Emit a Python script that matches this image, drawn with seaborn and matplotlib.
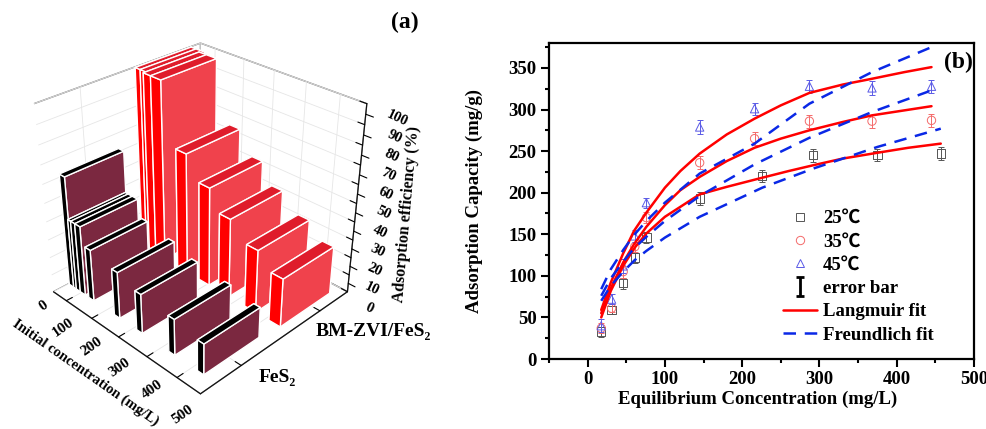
import matplotlib
matplotlib.use("Agg")
import matplotlib.pyplot as plt
from matplotlib.lines import Line2D
from matplotlib.ticker import MultipleLocator
import numpy as np
import pandas as pd
import seaborn as sns

# panel (a)
dark_conc = [50, 68, 79, 95, 129, 228, 310, 422, 516]
dark_eff = [62, 39, 39, 39, 29, 26, 22, 20, 17]
red_conc = [50, 68, 79, 105, 190, 270, 340, 430, 510]
red_eff = [100, 100, 99, 99, 67, 55, 44, 35, 27]
materials = ["FeS\u2082", "BM-ZVI/FeS\u2082"]
x_tick_labels = ["0", "100", "200", "300", "400", "500"]
x_label_px = [(43, 306), (63, 328), (92, 347), (120, 368), (152, 390), (183, 415)]

# panel (b)
x_low = [17.6, 31, 46, 61, 76, 145, 226, 292, 375, 457]
x_high = [17.6, 31, 46, 61, 76, 145, 216, 287, 368, 445]
q_25 = [33, 59, 91, 122, 146, 193, 220, 245, 245, 247]
q_35 = [37, 61, 105, 135, 170, 236, 265, 286, 286, 287]
q_45 = [40, 72, 112, 148, 188, 279, 301, 328, 326, 328]
err_25 = [6, 5, 7, 6, 7, 8, 7, 8, 7, 8]
err_35 = [6, 5, 7, 6, 7, 8, 8, 8, 8, 8]
err_45 = [8, 6, 8, 7, 6, 8, 7, 8, 8, 8]

lang_x_25 = [17.6, 30, 46, 61, 76, 100, 120, 145, 180, 226, 260, 292, 330, 375, 415, 457]
lang_25 = [50, 82, 112, 134, 151, 171, 183, 198, 207, 218, 226, 233, 241, 248, 254, 259]
lang_x = [17.6, 30, 46, 60, 76, 100, 120, 145, 180, 216, 250, 287, 330, 368, 410, 445]
lang_35 = [55, 85, 116, 138, 159, 185, 203, 219, 238, 254, 265, 275, 285, 293, 299, 304]
lang_45 = [59, 92, 127, 154, 176, 206, 226, 247, 270, 289, 305, 320, 330, 337, 345, 351]

freu_x_25 = [17.6, 30, 46, 61, 76, 100, 145, 226, 292, 375, 457]
freu_x = [17.6, 30, 46, 60, 76, 100, 145, 216, 287, 368, 445]
freu_25 = [70, 88, 105, 119, 130, 146, 171, 206, 229, 255, 277]
freu_35 = [76, 97, 117, 133, 147, 166, 196, 234, 266, 297, 323]
freu_45 = [84, 108, 131, 149, 166, 188, 223, 259, 307, 345, 375]

sns.set_style("ticks")
plt.rcParams["font.family"] = ["Liberation Serif", "Noto Sans CJK SC", "DejaVu Sans"]
plt.rcParams["font.weight"] = "bold"
plt.rcParams["axes.labelweight"] = "bold"
plt.rcParams["text.color"] = "black"
plt.rcParams["axes.labelcolor"] = "black"
plt.rcParams["xtick.color"] = "black"
plt.rcParams["ytick.color"] = "black"
plt.rcParams["axes.edgecolor"] = "black"

W, H = 987, 429
fig = plt.figure(figsize=(W / 100, H / 100), dpi=100)
fig.patch.set_facecolor("white")


def ftext(x, y, s, **kw):
    # text placed by pixel position in the figure
    kw.setdefault("ha", "center")
    kw.setdefault("va", "center")
    fig.text(x / W, 1 - y / H, s, **kw)


# ---- (a) 3D bars ----
ax3 = fig.add_axes([-0.1135, -0.0495, 0.62, 1.12], projection="3d", computed_zorder=False)
ax3.set_proj_type("persp", focal_length=0.35)
ax3.view_init(elev=31, azim=-45)
ax3.set_box_aspect((1, 1, 0.99), zoom=0.77)
ax3.set_xlim(47, 574)
ax3.set_ylim(0.54, 2.39)
ax3.set_zlim(0, 100)
ax3.patch.set_alpha(0)

red_faces = ["#f0424c", "#df1c2b", "#ff0000", "#f0424c", "#ff0000", "#f0424c"]
dark_faces = ["#7b2840", "#000000", "#000000", "#7b2840", "#000000", "#7b2840"]
for i, (c, e) in enumerate(zip(red_conc, red_eff)):
    ax3.bar3d(c, 1.59, 0, 36, 0.67, e, color=red_faces, shade=False, zorder=10 + i)
for i, (c, e) in enumerate(zip(dark_conc, dark_eff)):
    ax3.bar3d(c, 0.71, 0, 20, 0.65, e, color=dark_faces, shade=False, zorder=30 + i)

ax3.set_xticks([100, 200, 300, 400, 500])
ax3.set_yticks([1, 2])
ax3.set_zticks(range(0, 101, 10))
ax3.set_xticklabels([])
ax3.set_yticklabels([])
ax3.set_zticklabels([])
ax3.zaxis.set_ticks_position("upper")
for axis in (ax3.xaxis, ax3.yaxis, ax3.zaxis):
    axis.set_pane_color((1, 1, 1, 1))
    axis.pane.set_edgecolor("#777777")
    axis.line.set_color("#111111")
    axis._axinfo["grid"].update(color="#e6e6e6", linewidth=0.6)
    axis._axinfo["tick"].update(color="black", outward_factor=0.45, inward_factor=0)
# short ticks between the labelled ones on the height axis
for z in range(5, 100, 10):
    ax3.plot([574, 595], [2.39, 2.39], [z, z], color="black", lw=0.8, zorder=5)

for lab, (px, py) in zip(x_tick_labels, x_label_px):
    ftext(px, py, lab, fontsize=11, rotation=35)
ftext(86, 373, "Initial concentration (mg/L)", fontsize=10.5, rotation=-35)
for i in range(11):
    ftext(369 + 28 * i / 10, 308 - 190 * i / 10, str(10 * i), fontsize=10.5, rotation=-25)
ftext(407, 214, "Adsorption efficiency (%)", fontsize=11.5, rotation=85)
ftext(277, 377, materials[0], fontsize=14)
ftext(373, 332, materials[1], fontsize=14)
ftext(405, 22, "(a)", fontsize=17)

# ---- (b) isotherms ----
ax = fig.add_axes([549 / W, 1 - 359 / H, (974 - 549) / W, (359 - 43) / H])
scatter = [(x_low, q_25, err_25, "#555555", "s"),
           (x_high, q_35, err_35, "#f46a6a", "o"),
           (x_high, q_45, err_45, "#5a5ae6", "^")]
for xs, qs, errs, col, mk in scatter:
    ax.errorbar(xs, qs, yerr=errs, fmt="none", ecolor=col, elinewidth=0.7, capsize=2.5, capthick=0.7)
    sns.scatterplot(x=xs, y=qs, marker=mk, s=36, facecolors="none", edgecolor=col, linewidth=0.7, ax=ax)

dash = (0, (5, 3.5))
fits = [(lang_x_25, lang_25, "r", "-"), (lang_x, lang_35, "r", "-"), (lang_x, lang_45, "r", "-"),
        (freu_x_25, freu_25, "#0a28e6", dash), (freu_x, freu_35, "#0a28e6", dash),
        (freu_x, freu_45, "#0a28e6", dash)]
for xs, ys, col, ls in fits:
    df = pd.DataFrame({"x": xs, "y": ys})
    sns.lineplot(data=df, x="x", y="y", color=col, linestyle=ls, linewidth=1.8, estimator=None, ax=ax)

ax.set_xlim(-50, 500)
ax.set_ylim(0, 380)
ax.set_xticks(range(0, 501, 100))
ax.set_yticks(range(0, 351, 50))
ax.xaxis.set_minor_locator(MultipleLocator(50))
ax.yaxis.set_minor_locator(MultipleLocator(25))
ax.tick_params(which="major", length=6, width=1.5, labelsize=13.5, pad=3)
ax.tick_params(which="minor", length=3, width=1.5)
for s in ax.spines.values():
    s.set_linewidth(1.6)
    s.set_visible(True)
ax.set_xlabel("Equilibrium Concentration (mg/L)", fontsize=13.5)
ax.xaxis.set_label_coords(0.49, -0.1)
ax.set_ylabel("Adsorption Capacity (mg/g)", fontsize=13.5)
ax.yaxis.set_label_coords(-0.155, 0.5)
ax.text(0.963, 0.937, "(b)", transform=ax.transAxes, fontsize=17, ha="center", va="center")

err_handle = ax.errorbar([np.nan], [np.nan], yerr=[1], fmt="none", ecolor="black", elinewidth=2, capsize=3, capthick=2)
handles = [Line2D([], [], ls="", marker="s", mfc="none", mec="#555555", mew=0.7, ms=6),
           Line2D([], [], ls="", marker="o", mfc="none", mec="#f46a6a", mew=0.7, ms=6),
           Line2D([], [], ls="", marker="^", mfc="none", mec="#5a5ae6", mew=0.7, ms=6),
           err_handle,
           Line2D([], [], color="r", lw=1.8),
           Line2D([], [], color="#0a28e6", lw=1.8, ls=dash)]
labels = ["25\u2103", "35\u2103", "45\u2103", "error bar", "Langmuir fit", "Freundlich fit"]
ax.legend(handles, labels, loc="lower left", bbox_to_anchor=(0.51, -0.005), frameon=False,
          fontsize=13.5, handlelength=1.85, handletextpad=0.3, labelspacing=0.33)

fig.savefig("out.png", dpi=100, facecolor="white")
